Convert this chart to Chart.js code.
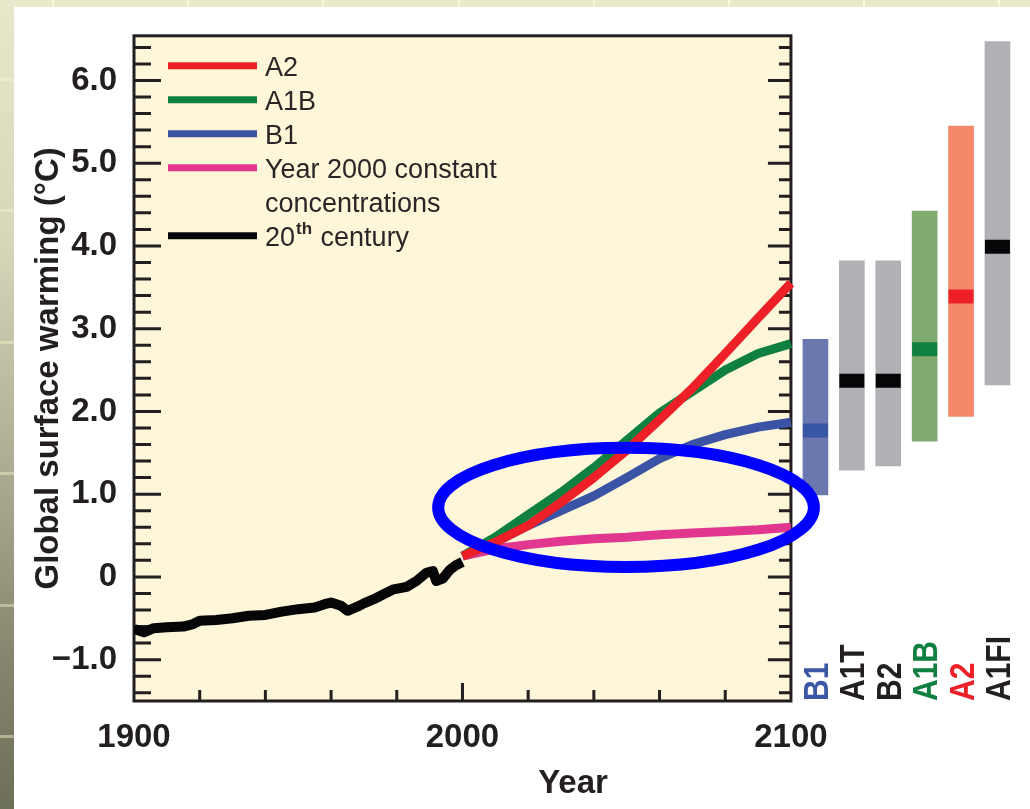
<!DOCTYPE html>
<html>
<head>
<meta charset="utf-8">
<title>Global surface warming</title>
<script src="https://cdn.jsdelivr.net/npm/chart.js@4.4.0/dist/chart.umd.min.js"></script>
<style>
html, body { margin: 0; padding: 0; }
body {
    width: 1030px; height: 809px; position: relative; overflow: hidden;
    background:
        repeating-linear-gradient(to bottom, transparent 0px, transparent 78px,
            rgba(245, 245, 205, 0.45) 78px, rgba(245, 245, 205, 0.45) 81px,
            transparent 81px, transparent 131.4px),
        linear-gradient(to bottom, #e7e7ca 0%, #d6d6b9 30%, #a9a98f 60%, #85856d 82%, #6e6f59 100%);
}
#top {
    position: absolute; left: 0; top: 0; width: 1030px; height: 7px;
    background:
        repeating-linear-gradient(to right, transparent 0px, transparent 52px,
            rgba(255, 255, 235, 0.7) 52px, rgba(255, 255, 235, 0.7) 54px,
            transparent 54px, transparent 135.2px),
        #e8e8cb;
}
#panel { position: absolute; left: 14px; top: 7px; width: 1016px; height: 802px; background: #fff; }
</style>
</head>
<body>
<div id="top"></div>
<div id="panel"><canvas id="warming-chart"></canvas></div>
<script>
// 20 世紀觀測值
const years20c = [1900, 1903, 1906, 1910, 1915, 1918, 1920, 1925, 1930, 1935, 1940, 1945, 1950, 1955,
    1958, 1960, 1963, 1965, 1968, 1970, 1973, 1976, 1979, 1983, 1986, 1989, 1991, 1992, 1994, 1996, 1998, 2000];
const warming20c = [-0.63, -0.67, -0.62, -0.61, -0.6, -0.57, -0.53, -0.52, -0.5, -0.47, -0.46, -0.42, -0.39, -0.37,
    -0.33, -0.31, -0.35, -0.41, -0.36, -0.32, -0.27, -0.21, -0.15, -0.12, -0.05, 0.05, 0.07, -0.05, -0.02, 0.08, 0.14, 0.18];

// 情境推估（2000–2100）
const projYears = [2000, 2010, 2020, 2030, 2040, 2050, 2060, 2070, 2080, 2090, 2100];
const warmingA2 = [0.25, 0.42, 0.62, 0.9, 1.2, 1.53, 1.9, 2.28, 2.7, 3.13, 3.55];
const warmingA1B = [0.25, 0.48, 0.75, 1.02, 1.32, 1.65, 1.98, 2.24, 2.5, 2.7, 2.82];
const warmingB1 = [0.25, 0.42, 0.62, 0.8, 0.98, 1.2, 1.43, 1.6, 1.72, 1.81, 1.87];
const warmingConst = [0.25, 0.34, 0.39, 0.43, 0.46, 0.48, 0.51, 0.53, 0.55, 0.57, 0.6];

// 右側各情境 2100 年的範圍與最佳估計
const scenarios = ['B1', 'A1T', 'B2', 'A1B', 'A2', 'A1FI'];
const scenarioLow = [0.99, 1.29, 1.34, 1.64, 1.94, 2.32];
const scenarioHigh = [2.87, 3.82, 3.82, 4.42, 5.45, 6.47];
const scenarioBest = [1.77, 2.37, 2.37, 2.75, 3.39, 3.99];

// 刻度
const xTickYears = [1900, 2000, 2100];
const yTickValues = [-1, 0, 1, 2, 3, 4, 5, 6];

const INK = '#231f20';
const FONT = '"Liberation Sans", Arial, sans-serif';
const barColors = ['#6b78b0', '#b1b1b5', '#b1b1b5', '#81aa6e', '#f5886a', '#b1b1b5'];
const bestColors = ['#3756a3', '#060608', '#060608', '#0f8040', '#ee2027', '#060608'];
const labelColors = ['#3a56a5', INK, INK, '#0f8040', '#ee2027', INK];

function toPoints(xs, ys) {
    return xs.map((x, i) => ({ x: x, y: ys[i] }));
}

function lineSet(label, xs, ys, color, width) {
    return {
        label: label,
        data: toPoints(xs, ys),
        borderColor: color,
        backgroundColor: color,
        borderWidth: width,
        pointRadius: 0,
        pointHoverRadius: 0,
        tension: 0,
        borderJoinStyle: 'round',
        legendLine: true,
    };
}

/**
 * 背景、外框與向內的刻度
 */
const framePlugin = {
    id: 'frame',
    beforeDraw(chart) {
        const { ctx, chartArea } = chart;
        const x = chart.scales.x;
        const left = x.getPixelForValue(1900);
        const right = x.getPixelForValue(2100);
        ctx.save();
        ctx.fillStyle = '#fdf6d8';
        ctx.fillRect(left, chartArea.top, right - left, chartArea.bottom - chartArea.top);
        ctx.restore();
    },
    beforeDatasetsDraw(chart) {
        const { ctx, chartArea } = chart;
        const x = chart.scales.x;
        const y = chart.scales.y;
        const left = x.getPixelForValue(1900);
        const right = x.getPixelForValue(2100);
        const top = chartArea.top;
        const bottom = chartArea.bottom;

        ctx.save();
        ctx.strokeStyle = INK;
        ctx.lineWidth = 3;
        ctx.beginPath();
        // y 軸刻度，每 0.2 一格
        for (let k = -7; k <= 32; k++) {
            const py = y.getPixelForValue(k / 5);
            const major = k % 5 === 0;
            ctx.moveTo(left, py);
            ctx.lineTo(left + (major ? 27 : 17), py);
            ctx.moveTo(right, py);
            ctx.lineTo(right - (major ? 23 : 12), py);
        }
        // x 軸刻度，每 20 年一格
        for (let yr = 1920; yr < 2100; yr += 20) {
            const px = x.getPixelForValue(yr);
            ctx.moveTo(px, bottom);
            ctx.lineTo(px, bottom - (yr === 2000 ? 18 : 11));
        }
        ctx.stroke();
        ctx.strokeRect(left, top, right - left, bottom - top);
        ctx.restore();
    },
};

/**
 * 圖例、情境標籤與藍色橢圓
 */
const overlayPlugin = {
    id: 'overlay',
    afterDatasetsDraw(chart) {
        const { ctx, chartArea } = chart;
        const x = chart.scales.x;
        const xb = chart.scales.xb;
        const y = chart.scales.y;

        ctx.save();

        // 圖例
        const lx = chartArea.left + 34;
        let ly = chartArea.top + 30;
        ctx.font = '27px ' + FONT;
        ctx.fillStyle = '#2a2526';
        ctx.textBaseline = 'alphabetic';
        ctx.textAlign = 'left';
        chart.data.datasets.filter(d => d.legendLine).forEach(d => {
            ctx.strokeStyle = d.borderColor;
            ctx.lineWidth = 7;
            ctx.beginPath();
            ctx.moveTo(lx, ly);
            ctx.lineTo(lx + 89, ly);
            ctx.stroke();

            const tx = lx + 97;
            const lines = d.label.split('\n');
            lines.forEach((line, i) => {
                const base = ly + 10 + i * 34;
                const m = line.match(/^(\d+)(th)(.*)$/);
                if (m) {
                    ctx.font = '27px ' + FONT;
                    ctx.fillText(m[1], tx, base);
                    const w1 = ctx.measureText(m[1]).width;
                    ctx.font = 'bold 17px ' + FONT;
                    ctx.fillText(m[2], tx + w1 + 1, base - 12);
                    const w2 = ctx.measureText(m[2]).width;
                    ctx.font = '27px ' + FONT;
                    ctx.fillText(m[3], tx + w1 + w2 + 2, base);
                } else {
                    ctx.fillText(line, tx, base);
                }
            });
            ly += 34 * lines.length;
        });

        // 情境名稱（直排）
        ctx.font = 'bold 30px ' + FONT;
        scenarios.forEach((s, i) => {
            const cx = xb.getPixelForValue(i);
            ctx.save();
            ctx.translate(cx + 12.5, chartArea.bottom);
            ctx.rotate(-Math.PI / 2);
            ctx.scale(1, 1.16);
            ctx.fillStyle = labelColors[i];
            ctx.fillText(s, 0, 0);
            ctx.restore();
        });

        // 標示用橢圓
        const cx = x.getPixelForValue(2049.8);
        const cy = y.getPixelForValue(0.84);
        const rx = x.getPixelForValue(2049.8 + 57.2) - cx;
        const ry = cy - y.getPixelForValue(0.84 + 0.72);
        ctx.strokeStyle = '#0000ff';
        ctx.lineWidth = 12;
        ctx.beginPath();
        ctx.ellipse(cx, cy, rx, ry, 0, 0, Math.PI * 2);
        ctx.stroke();

        ctx.restore();
    },
};

const tickFont = { family: FONT, size: 33, weight: 'bold' };

new Chart(document.getElementById('warming-chart'), {
    type: 'line',
    data: {
        datasets: [
            lineSet('A2', projYears, warmingA2, '#ee2027', 9),
            lineSet('A1B', projYears, warmingA1B, '#0f8040', 9),
            lineSet('B1', projYears, warmingB1, '#3a53a4', 9),
            lineSet('Year 2000 constant\nconcentrations', projYears, warmingConst, '#e2378f', 9),
            lineSet('20th century', years20c, warming20c, '#060608', 10),
            {
                type: 'line',
                label: 'best',
                data: scenarios.map((s, i) => ({ x: i, y: scenarioBest[i] })),
                xAxisID: 'xb',
                showLine: false,
                pointStyle: 'line',
                pointRadius: 12.5,
                pointHoverRadius: 12.5,
                pointBorderWidth: 14,
                pointBorderColor: bestColors,
                pointBackgroundColor: bestColors,
            },
            {
                type: 'bar',
                label: 'range',
                data: scenarios.map((s, i) => ({ x: i, y: [scenarioLow[i], scenarioHigh[i]] })),
                xAxisID: 'xb',
                backgroundColor: barColors,
                borderWidth: 0,
                barThickness: 25,
                grouped: false,
            },
        ],
    },
    options: {
        responsive: true,
        maintainAspectRatio: false,
        animation: false,
        events: [],
        layout: { autoPadding: false, padding: { top: 23, right: 18, left: 0, bottom: 0 } },
        plugins: {
            legend: { display: false },
            tooltip: { enabled: false },
        },
        scales: {
            x: {
                type: 'linear',
                min: 1900,
                max: 2167.3,
                grid: { display: false },
                border: { display: false },
                afterBuildTicks: (scale) => {
                    scale.ticks = xTickYears.map(v => ({ value: v }));
                },
                ticks: {
                    font: tickFont,
                    color: INK,
                    padding: 9,
                    maxRotation: 0,
                    autoSkip: false,
                    callback: (v) => String(v),
                },
                title: {
                    display: true,
                    text: 'Year',
                    font: tickFont,
                    color: INK,
                    padding: { top: 0, bottom: 5 },
                },
                afterFit: (scale) => { scale.height = 108; },
            },
            xb: {
                type: 'linear',
                display: false,
                offset: false,
                min: -18.72,
                max: 5.4,
            },
            y: {
                min: -1.5,
                max: 6.54,
                grid: { display: false },
                border: { display: false },
                afterBuildTicks: (scale) => {
                    scale.ticks = yTickValues.map(v => ({ value: v }));
                },
                ticks: {
                    font: tickFont,
                    color: INK,
                    padding: 9,
                    callback: (v) => (v === 0 ? '0' : (v < 0 ? '\u2212' : '') + Math.abs(v).toFixed(1)),
                },
                title: {
                    display: true,
                    text: 'Global surface warming (°C)',
                    font: tickFont,
                    color: INK,
                    padding: { top: 15, bottom: 0 },
                },
                afterFit: (scale) => { scale.width = 120; },
            },
        },
    },
    plugins: [framePlugin, overlayPlugin],
});
</script>
</body>
</html>
